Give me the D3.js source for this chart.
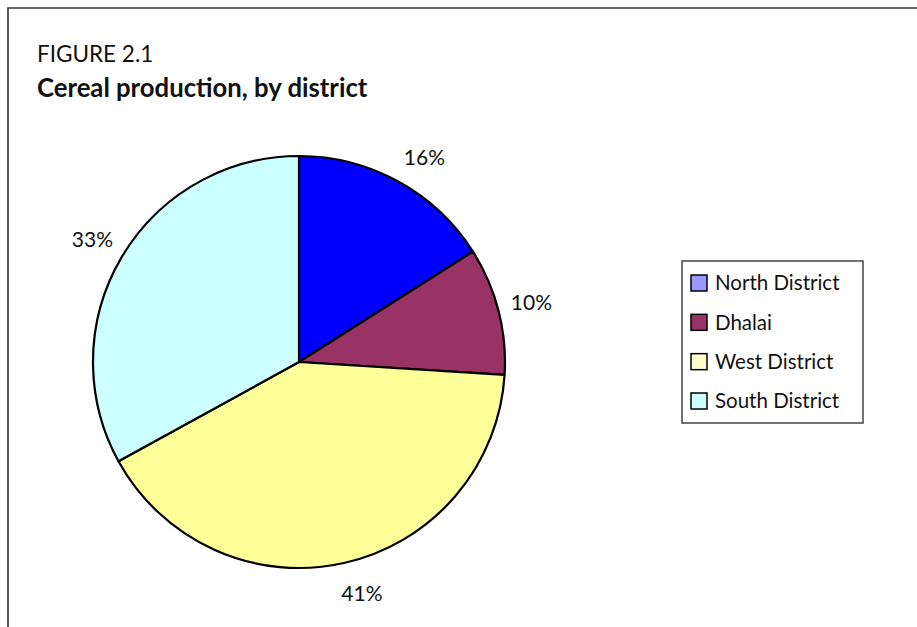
<!DOCTYPE html>
<html>
<head>
<meta charset="utf-8">
<script src="https://cdn.jsdelivr.net/npm/d3@7/dist/d3.min.js"></script>
<style>
  html, body { margin: 0; padding: 0; background: #fff; }
  svg { display: block; }
  text { font-family: Lato, "Open Sans", "DejaVu Sans", sans-serif; fill: #111; }
</style>
</head>
<body>
<svg id="chart" width="917" height="627"></svg>
<script>
// Share of cereal production per district (percent)
const districts = ["North District", "Dhalai", "West District", "South District"];
const shares = [16, 10, 41, 33];
const sliceColors = ["#0000FF", "#993366", "#FFFF99", "#CCFFFF"];
const legendColors = ["#9999FF", "#993366", "#FFFFCC", "#CCFFFF"];
const figureLabel = "FIGURE 2.1";
const figureTitle = "Cereal production, by district";

const W = 917, H = 627;
const svg = d3.select("#chart");

// Frame: top and left rules
svg.append("path")
  .attr("d", `M8,${H} L8,8 L${W},8`)
  .attr("fill", "none")
  .attr("stroke", "#333")
  .attr("stroke-width", 1.6);

// Heading
svg.append("text")
  .attr("x", 37).attr("y", 62)
  .style("font-size", "22.5px")
  .text(figureLabel);
svg.append("text")
  .attr("x", 37).attr("y", 97)
  .style("font-size", "25.7px")
  .style("font-weight", "bold")
  .text(figureTitle);

// Pie
const cx = 299, cy = 362, R = 206;
const data = districts.map((d, i) => ({ name: d, value: shares[i], i }));
const pie = d3.pie().value(d => d.value).sort(null);
const arcs = pie(data);
const arc = d3.arc().innerRadius(0).outerRadius(R);

const g = svg.append("g").attr("transform", `translate(${cx},${cy})`);
g.selectAll("path.slice")
  .data(arcs)
  .join("path")
  .attr("class", "slice")
  .attr("d", arc)
  .attr("fill", d => sliceColors[d.data.i])
  .attr("stroke", "#000")
  .attr("stroke-width", 2.2)
  .attr("stroke-linejoin", "round");

// Percent labels outside the pie, slightly nudged along the rim
const labelRadius = 240;
const labelNudgeDeg = [2.7, 0, -2.6, 0];
const labelAngle = d => (d.startAngle + d.endAngle) / 2 + labelNudgeDeg[d.data.i] * Math.PI / 180;
g.selectAll("text.pct")
  .data(arcs)
  .join("text")
  .attr("class", "pct")
  .attr("text-anchor", "middle")
  .attr("dy", "0.36em")
  .style("font-size", "21px")
  .attr("x", d => labelRadius * Math.sin(labelAngle(d)))
  .attr("y", d => -labelRadius * Math.cos(labelAngle(d)))
  .text(d => d3.format(".0f")(d.data.value) + "%");

// Legend
const lg = svg.append("g").attr("transform", "translate(682,261)");
lg.append("rect")
  .attr("width", 181).attr("height", 162)
  .attr("fill", "#fff")
  .attr("stroke", "#444")
  .attr("stroke-width", 1.5);
const rowY = d3.scalePoint().domain(districts).range([22, 140]);
const rows = lg.selectAll("g.row")
  .data(data)
  .join("g")
  .attr("class", "row")
  .attr("transform", d => `translate(0,${rowY(d.name)})`);
rows.append("rect")
  .attr("x", 9).attr("y", -8)
  .attr("width", 16).attr("height", 16)
  .attr("fill", d => legendColors[d.i])
  .attr("stroke", "#000")
  .attr("stroke-width", 1.5);
rows.append("text")
  .attr("x", 33).attr("dy", "0.36em")
  .style("font-size", "20.5px")
  .text(d => d.name);
</script>
</body>
</html>
